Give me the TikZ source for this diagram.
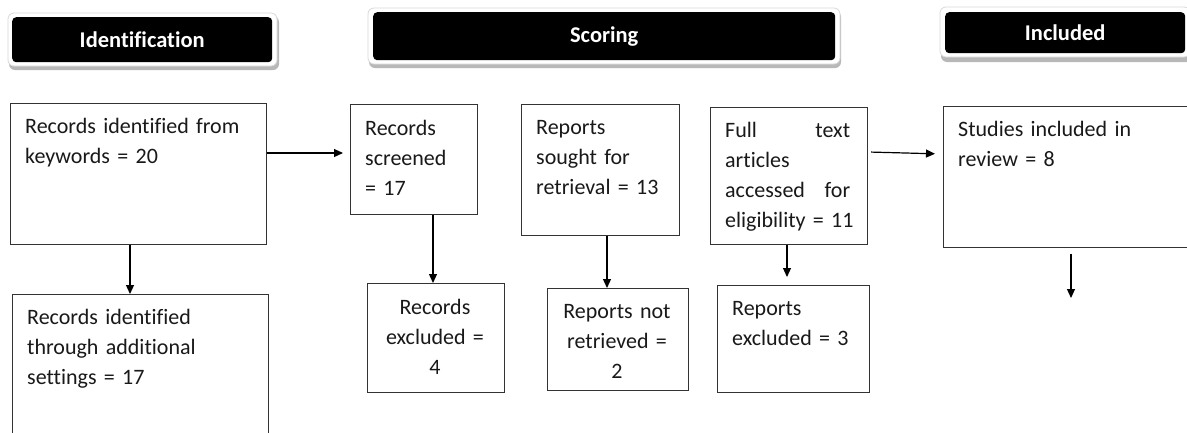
\documentclass[tikz,border=0pt]{standalone}
\usepackage{fontspec}
\setmainfont{Carlito}[Ligatures=NoCommon, WordSpace=0.85]
\usetikzlibrary{arrows.meta,calc}
\begin{document}
\begin{tikzpicture}[x=1pt,y=-1pt,
  box/.style={draw=black!80, line width=1.2pt, fill=white, inner sep=0pt, anchor=north west},
  txt/.style={anchor=north west, inner sep=0pt, align=left, text width=#1pt,
    font=\fontsize{22}{30}\selectfont, text=black!90},
  ctxt/.style={anchor=north, inner sep=0pt, align=center, text width=#1pt,
    font=\fontsize{22}{30}\selectfont, text=black!90},
  arr/.style={line width=1.2pt, draw=black, -{Triangle[length=9pt,width=8pt]}},
  hdr/.style={fill=black, rounded corners=4pt, text=white, inner sep=0pt, anchor=north west,
    font=\bfseries\fontsize{22.5}{25}\selectfont},
  hshadow/.style={fill=black!28, rounded corners=6pt},
  hwhite/.style={fill=white, draw=black!15, line width=0.8pt, rounded corners=6pt},
]
\clip (0,0) rectangle (1187,432);
\fill[white] (0,0) rectangle (1187,432);
\newcommand\st{\rule{0pt}{17pt}}
\newcommand\spread[2]{\makebox[125pt][l]{#1\hfill #2}}

% headers
\fill[hshadow] (9,16) rectangle (279,70);
\draw[hwhite] (8,13) rectangle (277,66);
\node[hdr, minimum width=260pt, minimum height=45pt] (h1) at (12,17) {\raisebox{-2pt}{Identification}};

\fill[hshadow] (369,11) rectangle (841,68);
\draw[hwhite] (368,8) rectangle (840,64);
\node[hdr, minimum width=462pt, minimum height=48pt] (h2) at (373,12) {Scoring};

\fill[hshadow] (941,10) rectangle (1195,62);
\draw[hwhite] (940,7) rectangle (1190,57);
\node[hdr, minimum width=240pt, minimum height=41pt] (h3) at (945,12) {Included};

% boxes
\node[box, minimum width=256pt, minimum height=141pt] (A) at (10,103) {};
\node[box, minimum width=127pt, minimum height=110pt] (B) at (350,104) {};
\node[box, minimum width=158pt, minimum height=131pt] (C) at (521,104) {};
\node[box, minimum width=157pt, minimum height=137pt] (D) at (710,107) {};
\node[box, minimum width=260pt, minimum height=141pt] (E) at (943,106) {};
\node[box, minimum width=256pt, minimum height=160pt] (F) at (12,294) {};
\node[box, minimum width=137pt, minimum height=109pt] (G) at (367,283) {};
\node[box, minimum width=141pt, minimum height=102pt] (H) at (547,288) {};
\node[box, minimum width=152pt, minimum height=107pt] (I) at (717,285) {};

% texts
\node[txt=235] (tA) at (25,116) {\st Records identified from\\keywords = 20};
\node[txt=110] (tB) at (365,118) {\st Records\\screened\\= 17};
\node[txt=140] (tC) at (536,117) {\st Reports\\sought for\\retrieval = 13};
\node[txt=140] (tD) at (725,120) {\st\spread{Full}{text}\\articles\\\spread{accessed}{for}\\\mbox{eligibility = 11}};
\node[txt=230] (tE) at (958,119) {\st Studies included in\\review = 8};
\node[txt=235] (tF) at (27,307) {\st Records identified\\through additional\\settings = 17};
\node[ctxt=130] (tG) at (435,297) {\st Records\\excluded =\\4};
\node[ctxt=135] (tH) at (617,301) {\st Reports not\\retrieved =\\2};
\node[txt=135] (tI) at (732,298) {\st Reports\\excluded = 3};

% connectors
\coordinate (endE) at (1071,298);
\draw[arr] (A.south -| 130,0) -- (F.north -| 130,0);
\draw[arr, shorten >=7pt] (A.east |- 0,153) -- (B.west |- 0,153);
\draw[arr] (B.south -| 433,0) -- (G.north -| 433,0);
\draw[arr] (C.south -| 607,0) -- (H.north -| 607,0);
\draw[arr, shorten >=8pt] (D.south -| 787,0) -- (I.north -| 787,0);
\draw[arr, shorten <=3pt, shorten >=8pt] (D.east |- 0,152) -- (E.west |- 0,154);
\draw[arr, shorten <=6pt] (E.south -| endE) -- (endE);
\end{tikzpicture}
\end{document}
